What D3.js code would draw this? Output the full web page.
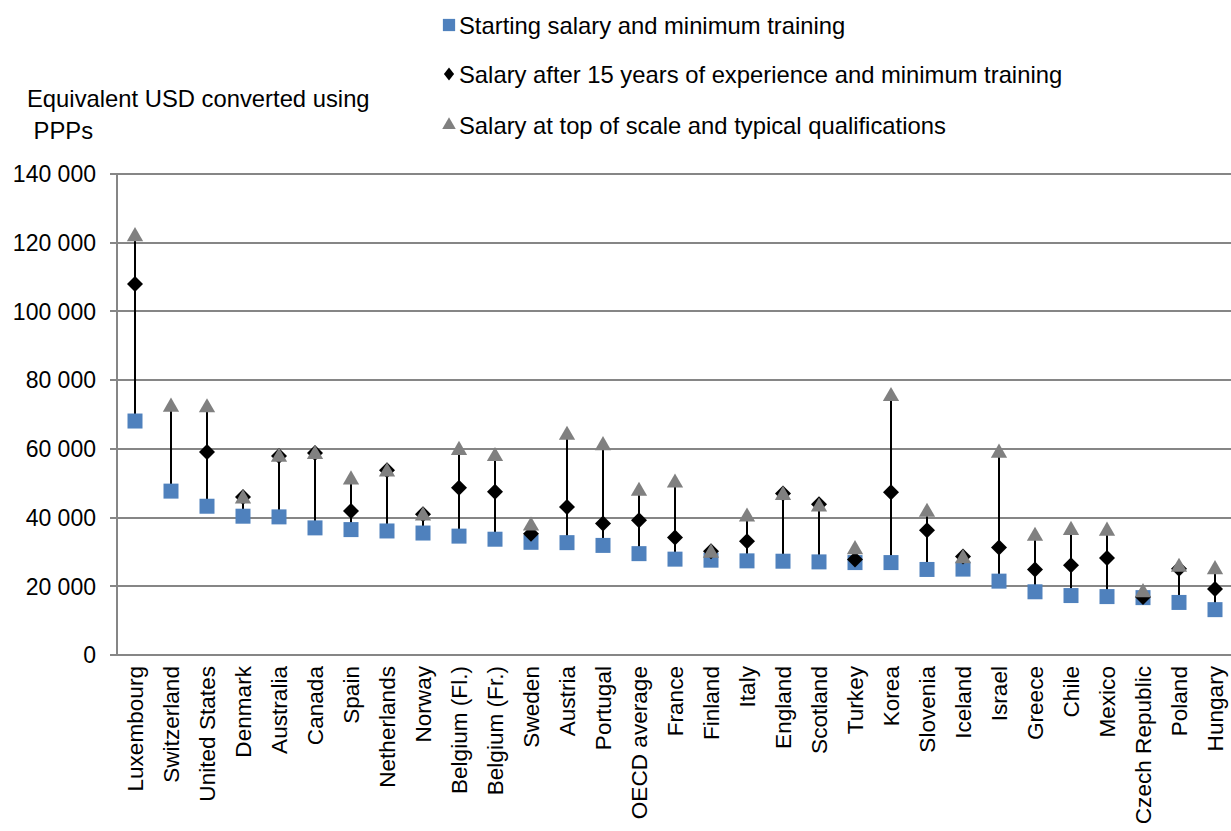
<!DOCTYPE html>
<html>
<head>
<meta charset="utf-8">
<script src="https://cdn.jsdelivr.net/npm/d3@7"></script>
<style>
  body { margin: 0; background: #fff; }
  text { font-family: "Liberation Sans", Arial, sans-serif; fill: #000; }
</style>
</head>
<body>
<script>
// teacher salaries chart

var countries = ["Luxembourg", "Switzerland", "United States", "Denmark", "Australia", "Canada", "Spain",
  "Netherlands", "Norway", "Belgium (Fl.)", "Belgium (Fr.)", "Sweden", "Austria", "Portugal", "OECD average",
  "France", "Finland", "Italy", "England", "Scotland", "Turkey", "Korea", "Slovenia", "Iceland", "Israel",
  "Greece", "Chile", "Mexico", "Czech Republic", "Poland", "Hungary"];

var startSalary = [68100, 47700, 43300, 40400, 40200, 37000, 36500, 36100, 35500, 34600, 33700, 32800, 32700,
  31900, 29500, 27900, 27600, 27400, 27300, 27100, 26900, 26900, 24900, 25000, 21500, 18400, 17300, 17000,
  16700, 15300, 13200];

var salary15 = [108000, null, 59100, 46000, 57900, 58800, 41900, 53800, 41000, 48700, 47500, 35300, 43100,
  38300, 39200, 34200, 30200, 33100, 47000, 43900, 27800, 47400, 36300, 28700, 31300, 24900, 26100, 28200,
  16900, 25100, 19200];

var topSalary = [121800, 72200, 72000, 45500, 57600, 58400, 51000, 53300, 40500, 59600, 57800, 37600, 64000,
  61000, 47700, 50100, 29700, 40200, 46500, 43100, 30700, 75300, 41600, 28100, 58800, 34600, 36300, 36100,
  18200, 25600, 24900];

var yTicks = [0, 20000, 40000, 60000, 80000, 100000, 120000, 140000];

var legendLabels = ["Starting salary and minimum training",
  "Salary after 15 years of experience and minimum training",
  "Salary at top of scale and typical qualifications"];

var w = 1231, h = 831;
var plotLeft = 117, plotRight = 1233, plotTop = 174, plotBottom = 655;

var svg = d3.select("body").append("svg")
  .attr("width", w)
  .attr("height", h);

var x = d3.scaleBand().domain(countries).range([plotLeft, plotRight]).padding(0);
var y = d3.scaleLinear().domain([0, 140000]).range([plotBottom, plotTop]);

var fmt = function(d) { return d3.format(",")(d).replace(/,/g, " "); };
var cx = function(c) { return x(c) + x.bandwidth() / 2; };

// gridlines
svg.append("g")
  .selectAll("line")
  .data(yTicks)
  .enter().append("line")
  .attr("x1", plotLeft - 7)
  .attr("x2", w)
  .attr("y1", function(d) { return Math.round(y(d)); })
  .attr("y2", function(d) { return Math.round(y(d)); })
  .attr("stroke", "#868686")
  .attr("stroke-width", 2);

// y axis line
svg.append("line")
  .attr("x1", plotLeft).attr("x2", plotLeft)
  .attr("y1", y(140000)).attr("y2", y(0) + 1)
  .attr("stroke", "#868686")
  .attr("stroke-width", 2);

// y tick labels
svg.append("g")
  .selectAll("text")
  .data(yTicks)
  .enter().append("text")
  .attr("x", 96)
  .attr("y", function(d) { return y(d); })
  .attr("dy", "0.36em")
  .attr("text-anchor", "end")
  .style("font-size", "23px")
  .text(fmt);

// x labels
svg.append("g")
  .selectAll("text")
  .data(countries)
  .enter().append("text")
  .attr("transform", function(d) {
    return "translate(" + cx(d) + "," + 666 + ") rotate(-90)";
  })
  .attr("dy", "0.36em")
  .attr("text-anchor", "end")
  .style("font-size", "22.6px")
  .text(function(d) { return d; });

// high-low lines
var rows = countries.map(function(c, i) {
  var vals = [startSalary[i], salary15[i], topSalary[i]].filter(function(v) { return v != null; });
  return { c: c, lo: d3.min(vals), hi: d3.max(vals), s: startSalary[i], m: salary15[i], t: topSalary[i] };
});

svg.append("g")
  .selectAll("line")
  .data(rows)
  .enter().append("line")
  .attr("x1", function(d) { return cx(d.c); })
  .attr("x2", function(d) { return cx(d.c); })
  .attr("y1", function(d) { return y(d.lo); })
  .attr("y2", function(d) { return y(d.hi); })
  .attr("stroke", "#000")
  .attr("stroke-width", 2);

var sq = d3.symbol().type(d3.symbolSquare).size(225);
var dia = d3.symbol().type(d3.symbolSquare).size(128);
var tri = d3.symbol().type(d3.symbolTriangle).size(115);

// squares
svg.append("g")
  .selectAll("path")
  .data(rows)
  .enter().append("path")
  .attr("d", sq)
  .attr("transform", function(d) { return "translate(" + cx(d.c) + "," + y(d.s) + ")"; })
  .attr("fill", "#4f81bd");

// diamonds (rotated squares)
svg.append("g")
  .selectAll("path")
  .data(rows.filter(function(d) { return d.m != null; }))
  .enter().append("path")
  .attr("d", dia)
  .attr("transform", function(d) { return "translate(" + cx(d.c) + "," + y(d.m) + ") rotate(45)"; })
  .attr("fill", "#000");

// triangles
svg.append("g")
  .selectAll("path")
  .data(rows)
  .enter().append("path")
  .attr("d", tri)
  .attr("transform", function(d) { return "translate(" + cx(d.c) + "," + y(d.t) + ")"; })
  .attr("fill", "#808080");

// axis title
svg.append("text").attr("x", 27).attr("y", 98).attr("dy", "0.36em")
  .style("font-size", "23.8px").text("Equivalent USD converted using");
svg.append("text").attr("x", 27).attr("y", 130).attr("dy", "0.36em")
  .style("font-size", "23.8px").text("\u00a0PPPs");

// legend
var legendY = [25, 74, 125];
var legendSymbols = [
  d3.symbol().type(d3.symbolSquare).size(150),
  d3.symbol().type(d3.symbolSquare).size(64),
  d3.symbol().type(d3.symbolTriangle).size(80)
];
var legendFill = ["#4f81bd", "#000", "#808080"];

var lg = svg.append("g")
  .selectAll("g")
  .data(legendLabels)
  .enter().append("g")
  .attr("transform", function(d, i) { return "translate(0," + legendY[i] + ")"; });

lg.append("path")
  .attr("d", function(d, i) { return legendSymbols[i](); })
  .attr("transform", function(d, i) { return i === 1 ? "translate(449,0) scale(0.9,1.15) rotate(45)" : "translate(449,0)"; })
  .attr("fill", function(d, i) { return legendFill[i]; });

lg.append("text")
  .attr("x", 459)
  .attr("dy", "0.36em")
  .style("font-size", "23.8px")
  .text(function(d) { return d; });
</script>
</body>
</html>
